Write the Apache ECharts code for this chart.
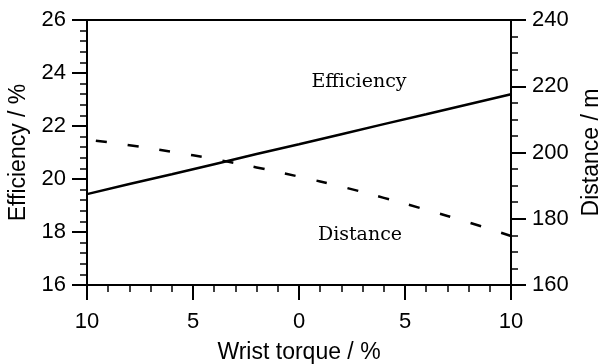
<!DOCTYPE html>
<html>
<head>
<meta charset="utf-8">
<script src="https://cdn.jsdelivr.net/npm/echarts@6/dist/echarts.min.js"></script>
<style>
  html, body { margin: 0; padding: 0; background: #fff; }
  #chart { width: 602px; height: 364px; }
</style>
</head>
<body>
<div id="chart"></div>
<script>
  // wrist torque change, %
  const torque = [-10, -8, -6, -4, -2, 0, 2, 4, 6, 8, 10];
  // efficiency, % (left axis)
  const efficiency = [19.43, 19.81, 20.18, 20.56, 20.94, 21.31, 21.69, 22.07, 22.44, 22.82, 23.2];
  // distance, m (right axis)
  const distance = [203.9, 202.2, 200.2, 198.0, 195.5, 192.7, 189.7, 186.3, 182.7, 178.9, 174.8];

  const SANS = '"Liberation Sans", Arial, sans-serif';
  const SERIF = '"DejaVu Serif", serif';

  let chart = echarts.init(document.getElementById('chart'));

  const axisCommon = {
    axisLine: { show: true, onZero: false, lineStyle: { color: '#000', width: 2 } },
    axisTick: { show: true, inside: false, length: 15, lineStyle: { color: '#000', width: 2 } },
    minorTick: { show: true, length: 7, lineStyle: { color: '#000', width: 1.5 } },
    splitLine: { show: false },
    axisLabel: { color: '#000', fontFamily: SANS, fontSize: 22, margin: 21 },
    nameTextStyle: { color: '#000', fontFamily: SANS, fontSize: 23 }
  };

  let option = {
    animation: false,
    grid: {
      left: 87, right: 91, top: 20, bottom: 79,
      outerBoundsMode: 'none',
      containLabel: false,
      show: true, borderColor: '#000', borderWidth: 2
    },
    xAxis: Object.assign({}, axisCommon, {
      type: 'value',
      min: -10, max: 10, interval: 5,
      minorTick: Object.assign({}, axisCommon.minorTick, { splitNumber: 5 }),
      axisLabel: Object.assign({}, axisCommon.axisLabel, {
        margin: 26,
        formatter: v => String(Math.abs(v))
      }),
      name: 'Wrist torque / %',
      nameLocation: 'middle',
      nameGap: 56
    }),
    yAxis: [
      Object.assign({}, axisCommon, {
        type: 'value',
        position: 'left',
        min: 16, max: 26, interval: 2,
        minorTick: Object.assign({}, axisCommon.minorTick, { splitNumber: 5 }),
        name: 'Efficiency / %',
        nameLocation: 'middle',
        nameRotate: 90,
        nameGap: 51
      }),
      Object.assign({}, axisCommon, {
        type: 'value',
        position: 'right',
        min: 160, max: 240, interval: 20,
        minorTick: Object.assign({}, axisCommon.minorTick, { splitNumber: 4 }),
        name: 'Distance / m',
        nameLocation: 'middle',
        nameRotate: 90,
        nameGap: 69
      })
    ],
    series: [
      {
        name: 'Efficiency',
        type: 'line',
        yAxisIndex: 0,
        showSymbol: false,
        data: torque.map((t, i) => [t, efficiency[i]]),
        lineStyle: { color: '#000', width: 2.5 }
      },
      {
        name: 'Distance',
        type: 'line',
        yAxisIndex: 1,
        showSymbol: false,
        smooth: true,
        data: torque.map((t, i) => [t, distance[i]]),
        lineStyle: { color: '#000', width: 2.5, type: [11, 21], dashOffset: 23 }
      }
    ],
    graphic: [
      {
        type: 'text', x: 359, y: 92,
        style: { text: 'Efficiency', fill: '#000', font: '19px ' + SERIF, align: 'center', verticalAlign: 'bottom' }
      },
      {
        type: 'text', x: 360, y: 245,
        style: { text: 'Distance', fill: '#000', font: '19px ' + SERIF, align: 'center', verticalAlign: 'bottom' }
      }
    ]
  };

  chart.setOption(option);
</script>
</body>
</html>
